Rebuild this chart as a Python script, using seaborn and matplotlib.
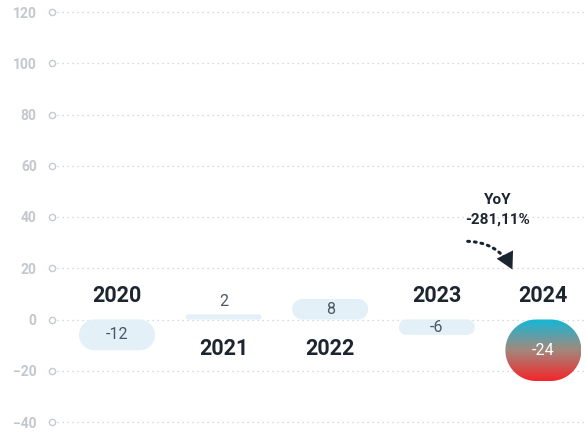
import numpy as np
import matplotlib
matplotlib.use("Agg")
import matplotlib.pyplot as plt
import matplotlib.transforms as mtransforms
from matplotlib.patches import Polygon
from matplotlib.colors import LinearSegmentedColormap
import seaborn as sns
import pandas as pd

# ---- data ----
years = ["2020", "2021", "2022", "2023", "2024"]
values = [-12, 2, 8, -6, -24]
yticks = [-40, -20, 0, 20, 40, 60, 80, 100, 120]
yoy_title = "YoY"
yoy_value = "-281,11%"

sns.set_theme(style="white")
plt.rcParams['font.family'] = ['Roboto', 'DejaVu Sans']

W, H = 586, 434
fig = plt.figure(figsize=(W / 100, H / 100), dpi=100)
ylo, yhi = -44, 124
ax = fig.add_axes([52 / W, 1.75 / H, (W - 52) / W, 430.5 / H])

df = pd.DataFrame({"year": years, "value": values})
sns.barplot(data=df, x="year", y="value", ax=ax, color="#e3f0f8",
            width=0.713, saturation=1, errorbar=None)

ax.set_xlim(-0.61, 4.40)
ax.set_ylim(ylo, yhi)
for s in ax.spines.values():
    s.set_visible(False)
ax.set_xlabel("")
ax.set_ylabel("")
ax.set_xticks([])
ax.set_yticks(yticks)
ax.tick_params(axis='y', length=0, pad=11, labelsize=10, labelcolor='#c3c7ce')
for lab in ax.get_yticklabels():
    lab.set_fontweight('bold')
ax.yaxis.grid(True, linestyle=(0, (1, 3)), color='#c9cdd4', lw=0.9)
ax.set_axisbelow(True)

# hollow circles at axis start
trans = mtransforms.blended_transform_factory(ax.transAxes, ax.transData)
ax.plot(np.zeros(len(yticks)), yticks, 'o', transform=trans, ms=4.5,
        mfc='white', mec='#c5c9d0', mew=1, clip_on=False, zorder=3)

fig.canvas.draw()
o = ax.transData.transform((0, 0))
px_x = ax.transData.transform((1, 0))[0] - o[0]
px_y = ax.transData.transform((0, 1))[1] - o[1]


def rounded_poly(x, y0, w, hh):
    """Rounded rectangle (circular corners in pixel space) in data coords."""
    wp, hp = w * px_x, hh * px_y
    r = min(wp, hp) / 2
    t = np.linspace(0, np.pi / 2, 24)
    pts = []
    corners = [(wp - r, hp - r, 0), (r, hp - r, np.pi / 2),
               (r, r, np.pi), (wp - r, r, 1.5 * np.pi)]
    for cx, cy, a0 in corners:
        for a in a0 + t:
            pts.append((cx + r * np.cos(a), cy + r * np.sin(a)))
    pts = np.array(pts)
    return np.column_stack([x + pts[:, 0] / px_x, y0 + pts[:, 1] / px_y])


cmap = LinearSegmentedColormap.from_list(
    "g", ["#12b8d8", "#a3887c", "#f3252a"])

bars = list(ax.patches)
for i, p in enumerate(bars):
    x, y, w, h = p.get_x(), p.get_y(), p.get_width(), p.get_height()
    y0 = min(y, y + h)
    hh = abs(h)
    p.remove()
    last = (i == len(bars) - 1)
    poly = Polygon(rounded_poly(x, y0, w, hh), closed=True,
                   fc="none" if last else "#e3f0f8", ec="none", zorder=2)
    ax.add_patch(poly)
    if last:
        grad = np.linspace(0, 1, 256).reshape(-1, 1)
        im = ax.imshow(grad, cmap=cmap, aspect='auto',
                       extent=(x, x + w, y0, y0 + hh), origin='upper',
                       zorder=2.5)
        im.set_clip_path(poly)

ax.set_xlim(-0.61, 4.40)
ax.set_ylim(ylo, yhi)

# labels
for i, v in enumerate(values):
    off = 17 if v < 0 else -21
    ax.annotate(years[i], (i, 0), xytext=(0, off), textcoords='offset points',
                ha='center', va='center', fontsize=15.5, fontweight='bold',
                color='#1d2630')
    last = (i == len(values) - 1)
    col = 'white' if last else '#4a5566'
    if abs(v) >= 4:
        ax.annotate(str(v), (i, v / 2), ha='center', va='center',
                    fontsize=11.5, color=col)
    else:
        ax.annotate(str(v), (i, v), xytext=(0, 9), textcoords='offset points',
                    ha='center', va='center', fontsize=11.5, color=col)

# YoY annotation
n = len(values) - 1
ax.text(n - 0.43, 46.5, yoy_title, ha='center', va='center', fontsize=11,
        fontweight='bold', color='#1d2630')
ax.text(n - 0.43, 39.0, yoy_value, ha='center', va='center', fontsize=11,
        fontweight='bold', color='#1d2630')
a_end = (n - 0.29, 19.5)
a_start = (n - 0.71, 30.5)
conn = "arc3,rad=-0.3"
# dotted shaft
ax.annotate("", xy=a_end, xytext=a_start,
            arrowprops=dict(arrowstyle="-", connectionstyle=conn,
                            linestyle=(0, (0.6, 1.6)), lw=2.2, color='#1b2530',
                            shrinkA=0, shrinkB=4))
# solid head
ax.annotate("", xy=a_end, xytext=a_start,
            arrowprops=dict(arrowstyle="-|>,head_length=0.55,head_width=0.3",
                            connectionstyle=conn, lw=0, color='#1b2530',
                            mutation_scale=22, shrinkA=0, shrinkB=0))

fig.savefig("out.png", dpi=100)
